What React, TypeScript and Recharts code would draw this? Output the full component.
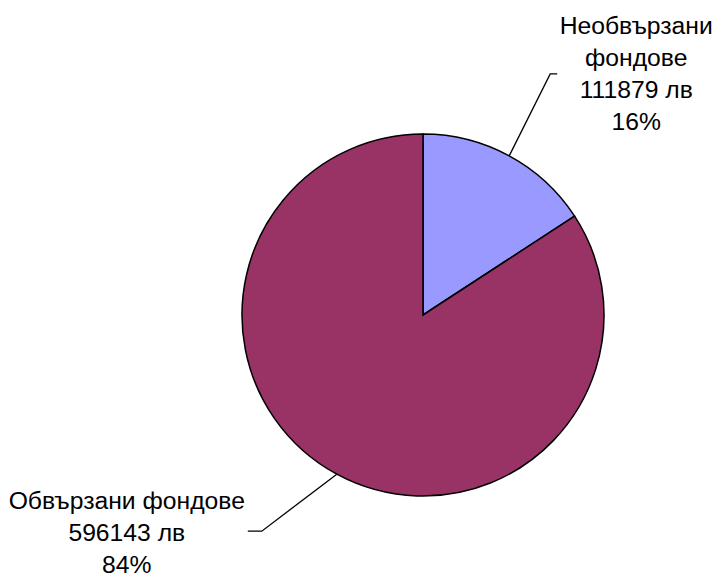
import React from "react";
import { PieChart, Pie, Cell } from "recharts";

const categories = ["Необвързани фондове", "Обвързани фондове"];
const amounts = [111879, 596143];
const currency = "лв";
const colors = ["#9999FF", "#993366"];

// label leader layout per slice
const labelLayout = [
  { ex: 41, ey: -82, tail: 7, tx: 79, ty: -49, lines: ["Необвързани", "фондове"] },
  { ex: -75, ey: 57, tail: -14, tx: -121, ty: -31, lines: ["Обвързани фондове"] },
];

const total = amounts.reduce((a, b) => a + b, 0);
const data = categories.map((c, i) => ({ name: c, value: amounts[i] }));

const RADIAN = Math.PI / 180;

const renderLabel = (props: any) => {
  const { cx, cy, midAngle, outerRadius, index, value } = props;
  const L = labelLayout[index];
  const sx = cx + outerRadius * Math.cos(-midAngle * RADIAN);
  const sy = cy + outerRadius * Math.sin(-midAngle * RADIAN);
  const mx = sx + L.ex;
  const my = sy + L.ey;
  const endx = mx + L.tail;
  const textX = endx + L.tx;
  const pct = Math.round((value / total) * 100) + "%";
  const lines = [...L.lines, `${value} ${currency}`, pct];
  const lh = 32;
  return (
    <g>
      <polyline
        points={`${sx},${sy} ${mx},${my} ${endx},${my}`}
        fill="none"
        stroke="#000"
        strokeWidth={1.3}
      />
      <text
        x={textX}
        y={my + L.ty}
        textAnchor="middle"
        dominantBaseline="central"
        fontFamily="'Liberation Sans', Arial, sans-serif"
        fontSize={24.7}
        fill="#000"
      >
        {lines.map((t, i) => (
          <tspan key={i} x={textX} dy={i === 0 ? 0 : lh}>
            {t}
          </tspan>
        ))}
      </text>
    </g>
  );
};

export default function App() {
  return (
    <div style={{ position: "absolute", left: 0, top: 0, width: 717, height: 577 }}>
      <PieChart width={717} height={577} margin={{ top: 0, right: 0, bottom: 0, left: 0 }}>
        <Pie
          data={data}
          dataKey="value"
          nameKey="name"
          cx={423}
          cy={315}
          outerRadius={181}
          startAngle={90}
          endAngle={-270}
          stroke="#000"
          strokeWidth={1.5}
          label={renderLabel}
          labelLine={false}
          isAnimationActive={false}
        >
          {data.map((d, i) => (
            <Cell key={d.name} fill={colors[i]} />
          ))}
        </Pie>
      </PieChart>
    </div>
  );
}
